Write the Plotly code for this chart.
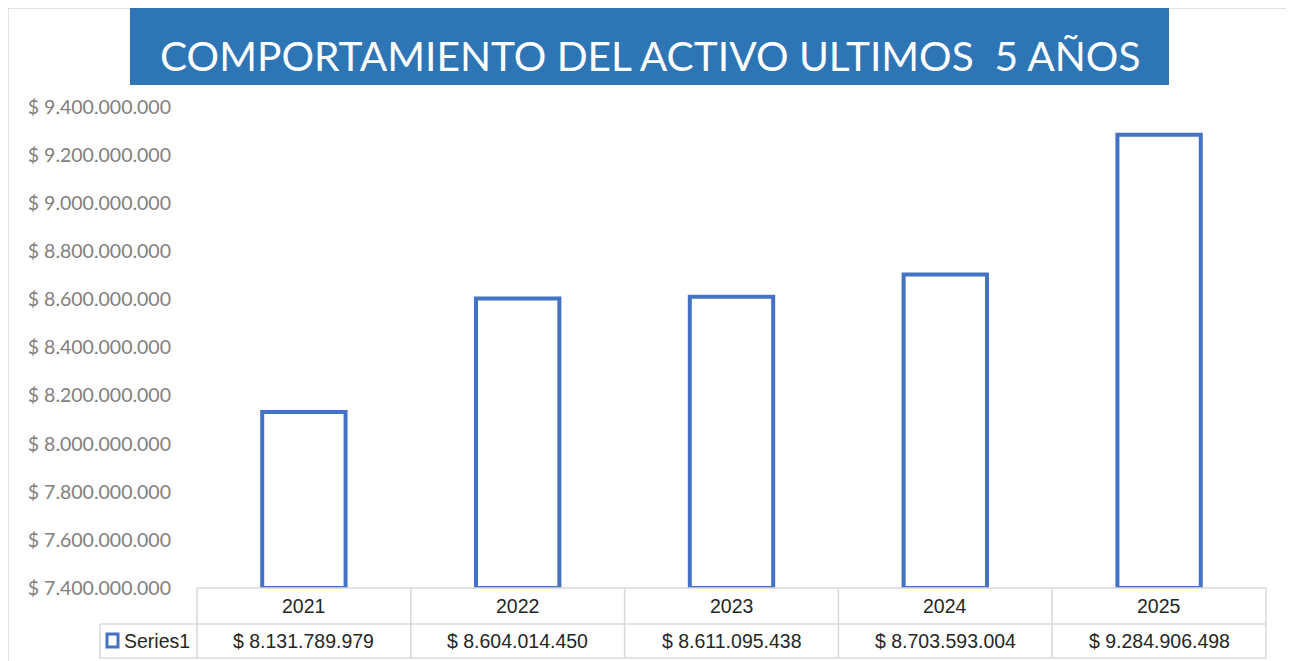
import plotly.graph_objects as go

# datos
years = ["2021", "2022", "2023", "2024", "2025"]
activo = [8131789979, 8604014450, 8611095438, 8703593004, 9284906498]
y_ticks = [7400000000, 7600000000, 7800000000, 8000000000, 8200000000,
           8400000000, 8600000000, 8800000000, 9000000000, 9200000000, 9400000000]
serie = "Series1"
titulo = "COMPORTAMIENTO DEL ACTIVO ULTIMOS\u00a0 5 AÑOS"


def pesos(v):
    return "$ " + f"{v:,.0f}".replace(",", ".")


W, H = 1294, 661
OFF = 8  # margen del body de la pagina
# area de trazado en pixeles de la pantalla
X0, X1, Y0, Y1 = 197, 1266, 107, 588
L, R, T = X0 - OFF, W - (X1 - OFF), Y0 - OFF
B = H - (Y1 - OFF)
PW, PH = X1 - X0, Y1 - Y0


def px(x):  # pixel de pantalla -> paper x
    return (x - X0) / PW


def py(y):  # pixel de pantalla -> paper y
    return (Y1 - y) / PH


azul = "#4472C4"
gris = "#d9d9d9"
base = y_ticks[0]
n = len(years)

fig = go.Figure()
fig.add_trace(go.Bar(
    x=years, y=[v - base for v in activo], base=base,
    width=0.39,
    marker=dict(color="white", line=dict(color=azul, width=4)),
    cliponaxis=False,
    showlegend=False,
))

shapes = []
# borde exterior
shapes.append(dict(type="rect", xref="paper", yref="paper",
                   x0=px(8), x1=px(1287), y0=py(8), y1=py(680),
                   line=dict(color=gris, width=1.5), layer="below"))
# caja del titulo
shapes.append(dict(type="rect", xref="paper", yref="paper",
                   x0=px(130), x1=px(1169), y0=py(8), y1=py(85),
                   fillcolor="#2E75B6", line=dict(width=0)))

# tabla de datos: columnas en los limites de cada categoria
col = [i / n for i in range(n + 1)]
r0, r1, r2 = 0, py(624), py(658)
tline = dict(color=gris, width=1.5)
shapes.append(dict(type="line", xref="paper", yref="paper", x0=0, x1=1, y0=r0, y1=r0, line=tline))
shapes.append(dict(type="line", xref="paper", yref="paper", x0=px(100), x1=1, y0=r1, y1=r1, line=tline))
shapes.append(dict(type="line", xref="paper", yref="paper", x0=px(100), x1=1, y0=r2, y1=r2, line=tline))
for c in col:
    shapes.append(dict(type="line", xref="paper", yref="paper", x0=c, x1=c, y0=r0, y1=r2, line=tline))
shapes.append(dict(type="line", xref="paper", yref="paper", x0=px(100), x1=px(100), y0=r1, y1=r2, line=tline))
# clave de la serie
shapes.append(dict(type="rect", xref="paper", yref="paper",
                   x0=px(107), x1=px(118), y0=py(634), y1=py(647),
                   fillcolor="white", line=dict(color=azul, width=3)))

tfont = dict(family="Liberation Sans, Arial", size=19.5, color="#262626")
annotations = [dict(text=titulo, xref="paper", yref="paper", x=px(650), y=py(55),
                    xanchor="center", yanchor="middle", showarrow=False,
                    font=dict(family="Lato", size=40.7, color="white"))]
for i, (yr, v) in enumerate(zip(years, activo)):
    annotations.append(dict(text=yr, xref="x", yref="paper", x=i, y=py(606),
                            yanchor="middle", showarrow=False, font=tfont))
    annotations.append(dict(text=pesos(v), xref="x", yref="paper", x=i, y=py(641),
                            yanchor="middle", showarrow=False, font=tfont))
annotations.append(dict(text=serie, xref="paper", yref="paper", x=px(122), y=py(641),
                        xanchor="left", yanchor="middle", showarrow=False, font=tfont))

fig.update_layout(
    width=W, height=H,
    margin=dict(l=L, r=R, t=T, b=B),
    paper_bgcolor="white", plot_bgcolor="white",
    shapes=shapes, annotations=annotations,
    xaxis=dict(showticklabels=False, showgrid=False, zeroline=False, showline=False,
               range=[-0.5, n - 0.5]),
    yaxis=dict(range=[y_ticks[0], y_ticks[-1]], tickvals=y_ticks,
               ticktext=[pesos(v) for v in y_ticks],
               showgrid=False, zeroline=False, showline=False,
               ticklabelstandoff=25,
               tickfont=dict(family="Lato", size=19.5, color="#808080")),
)

fig.write_html("out.html")
